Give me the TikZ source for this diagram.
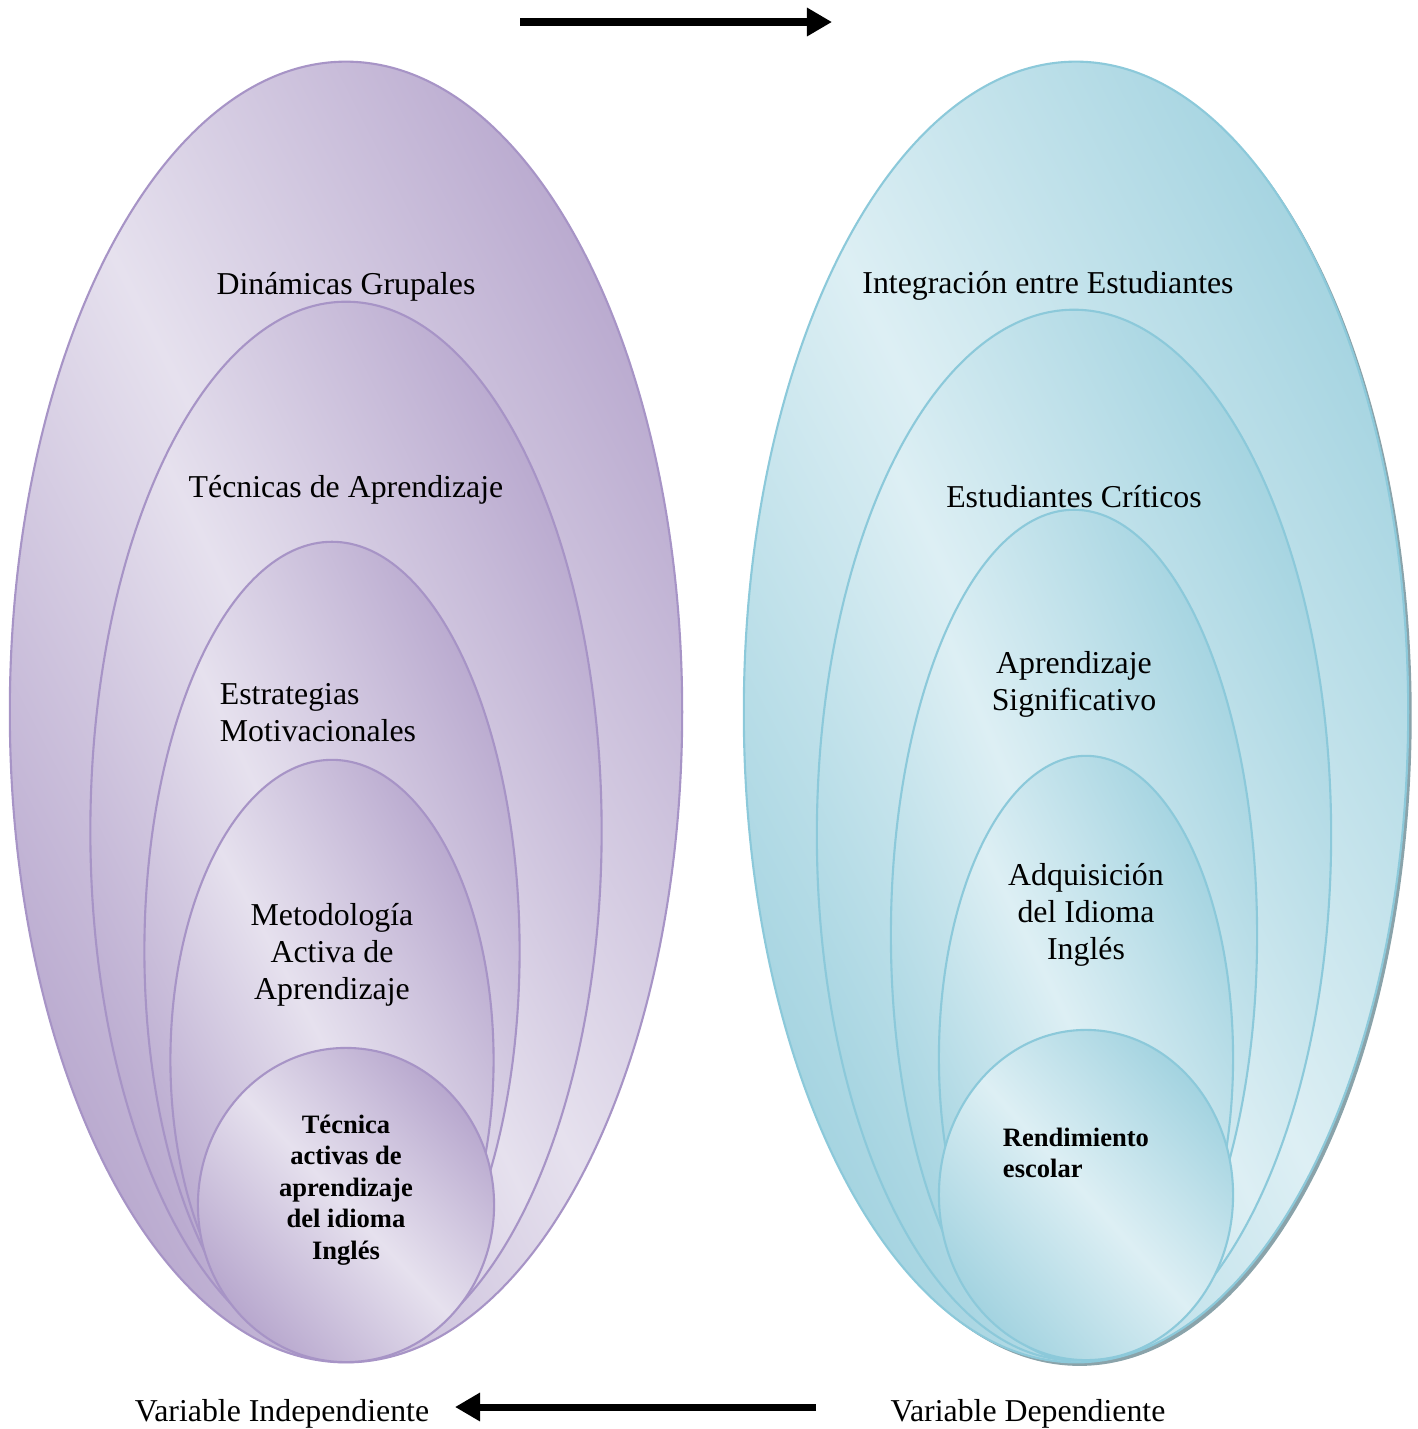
\documentclass[tikz,border=0pt]{standalone}
\usepackage{fontspec}
\setmainfont{Liberation Serif}
\usepackage{tikz}
\usetikzlibrary{arrows.meta}
\usetikzlibrary{shapes.geometric}
\usetikzlibrary{shadows}
\usetikzlibrary{positioning}
\definecolor{ivlight}{HTML}{E6E1EE}
\definecolor{ivdark}{HTML}{B8A8CE}
\definecolor{ivline}{HTML}{A794C6}
\definecolor{dvlight}{HTML}{DDEFF4}
\definecolor{dvdark}{HTML}{A3D3E0}
\definecolor{dvline}{HTML}{8CC9DA}
\definecolor{dvshadow}{HTML}{8AA3AA}

\begin{document}
\begin{tikzpicture}[x=0.01cm,y=-0.01cm,on grid,
        ring/.style={ellipse,inner sep=0pt,line width=0.6pt},
        ivring/.style={ring,draw=ivline,top color=ivdark,bottom color=ivdark,middle color=ivlight,shading angle=#1},
        dvring/.style={ring,draw=dvline,top color=dvdark,bottom color=dvdark,middle color=dvlight,shading angle=#1},
        lbl/.style={inner sep=0pt,font=\fontsize{9.05}{10.5}\selectfont,align=center},
        boldlbl/.style={inner sep=0pt,font=\fontsize{7.55}{8.95}\selectfont\bfseries,align=center},
        bigarrow/.style={line width=2pt,-{Triangle[length=0.25cm,width=0.27cm]}}]

        \useasboundingbox (0,0) rectangle (1418,1429);

        \node[ivring=-63, minimum width=6.72cm, minimum height=13cm] (iv_1) at (346,712) {};
        \node[ivring=-64, minimum width=5.11cm, minimum height=10.58cm] (iv_2) at (346,831) {};
        \node[ivring=-65, minimum width=3.75cm, minimum height=8.18cm] (iv_3) at (332,951) {};
        \node[ivring=-62, minimum width=3.23cm, minimum height=6cm] (iv_4) at (332,1060) {};
        \node[ivring=-47, minimum width=2.96cm, minimum height=3.14cm] (iv_5) at (346,1205) {};

        \node[dvring=-63, minimum width=6.64cm, minimum height=13cm,
              drop shadow={shadow xshift=1pt, shadow yshift=-1pt, fill=dvshadow, opacity=1}] (dv_1) at (1076,712) {};
        \node[dvring=-64, minimum width=5.14cm, minimum height=10.5cm] (dv_2) at (1074,835) {};
        \node[dvring=-67, minimum width=3.66cm, minimum height=8.5cm] (dv_3) at (1074,935) {};
        \node[dvring=-64, minimum width=2.94cm, minimum height=6.04cm] (dv_4) at (1086,1058) {};
        \node[dvring=-48, minimum width=2.94cm, minimum height=3.3cm] (dv_5) at (1086,1195) {};

        \node[lbl] (l_iv1) [below=2.26cm of iv_1.north, anchor=center] {Dinámicas Grupales};
        \node[lbl] (l_iv2) [below=1.89cm of iv_2.north, anchor=center] {Técnicas de Aprendizaje};
        \node[lbl, align=left] (l_iv3) [below=1.72cm of iv_3.north, anchor=center, xshift=-0.14cm] {Estrategias\\Motivacionales};
        \node[lbl] (l_iv4) [below=1.96cm of iv_4.north, anchor=center] {Metodología\\Activa de\\Aprendizaje};
        \node[boldlbl] (l_iv5) [below=1.43cm of iv_5.north, anchor=center] {Técnica\\activas de\\aprendizaje\\del idioma\\Inglés};

        \node[lbl] (l_dv1) [below=2.25cm of dv_1.north, anchor=center, xshift=-0.28cm] {Integración entre Estudiantes};
        \node[lbl] (l_dv2) [below=1.88cm of dv_2.north, anchor=center] {Estudiantes Críticos};
        \node[lbl] (l_dv3) [below=1.76cm of dv_3.north, anchor=center] {Aprendizaje\\Significativo};
        \node[lbl] (l_dv4) [below=1.6cm of dv_4.north, anchor=center] {Adquisición\\del Idioma\\Inglés};
        \node[boldlbl, align=left] (l_dv5) [below=1.24cm of dv_5.north, anchor=center, xshift=-0.1cm] {Rendimiento\\escolar};

        \node[lbl] (v_ind) at (282,1414) {Variable Independiente};
        \node[lbl] (v_dep) at (1028,1414) {Variable Dependiente};

        \coordinate (t_start) at (520,22);
        \coordinate (t_end) at (832,22);
        \coordinate (b_start) at (816,1407);
        \coordinate (b_end) at (455,1407);

        \draw[bigarrow] (t_start) -- (t_end);
        \draw[bigarrow] (b_start) -- (b_end);
      \end{tikzpicture}
\end{document}
